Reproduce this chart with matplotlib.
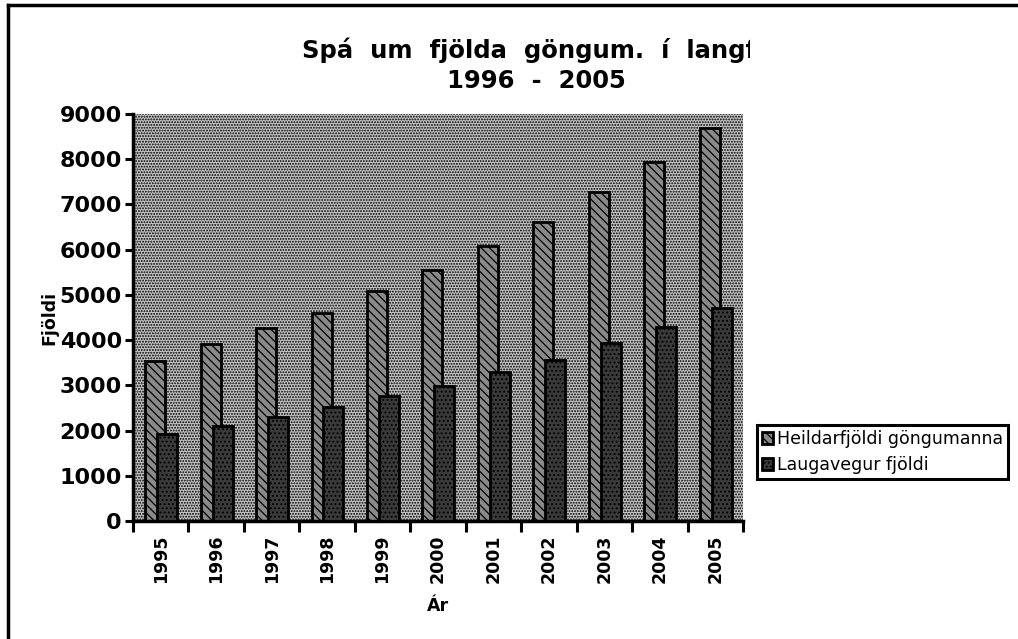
import matplotlib
matplotlib.use("Agg")
import matplotlib.pyplot as plt
import numpy as np
from matplotlib.patches import Rectangle
from matplotlib.lines import Line2D
from matplotlib.transforms import Bbox

years = ["1995", "1996", "1997", "1998", "1999", "2000", "2001", "2002", "2003", "2004", "2005"]
heildar = [3540, 3910, 4270, 4605, 5085, 5550, 6090, 6610, 7270, 7930, 8690]
laugavegur = [1930, 2100, 2290, 2515, 2760, 2990, 3290, 3570, 3940, 4295, 4716]
yticks = [0, 1000, 2000, 3000, 4000, 5000, 6000, 7000, 8000, 9000]
labels = ["Heildarfjöldi göngumanna", "Laugavegur fjöldi"]
title1 = "Spá  um  fjölda  göngum.  í  langferðum"
title2 = "1996  -  2005"

plt.rcParams['hatch.linewidth'] = 0.9
BOLD = "DejaVu Sans"

W, H = 1018, 639
fig = plt.figure(figsize=(W / 100, H / 100), dpi=100)
fig.patch.set_facecolor("white")

ax = fig.add_axes([133 / W, 1 - 521 / H, (743 - 133) / W, (521 - 114) / H])
ax.set_facecolor("white")

# dotted plot-area background
bg = Rectangle((0, 0), 1, 1, transform=ax.transAxes, facecolor="#c0c0c0",
               edgecolor="black", linewidth=0, hatch="......", zorder=0)
ax.add_patch(bg)

x = np.arange(len(years))
w = 0.36
b1 = ax.bar(x - 0.10, heildar, w, facecolor="#8a8a8a", edgecolor="black",
            linewidth=2.0, hatch="\\\\\\\\", zorder=2, label=labels[0])
b2 = ax.bar(x + 0.115, laugavegur, w, facecolor="#3a3a3a", edgecolor="black",
            linewidth=2.0, hatch="....", zorder=3, label=labels[1])

ax.set_xlim(-0.5, len(years) - 0.5)
ax.set_ylim(0, 9000)

ax.set_yticks(yticks)
ax.set_yticklabels([str(v) for v in yticks], fontfamily=BOLD, fontweight="bold", fontsize=16)
ax.tick_params(axis="y", length=6, width=2.2, direction="out", pad=2)

ax.set_xticks(np.arange(len(years) + 1) - 0.5)
ax.set_xticklabels([])
ax.set_xticks(x, minor=True)
ax.set_xticklabels(years, minor=True, rotation=90, fontfamily=BOLD,
                   fontweight="bold", fontsize=12.5)
ax.tick_params(axis="x", which="major", length=8, width=2.2, direction="out")
ax.tick_params(axis="x", which="minor", length=0, pad=10)

for s in ["top", "right"]:
    ax.spines[s].set_visible(False)
ax.spines["left"].set_linewidth(2.5)
ax.spines["bottom"].set_linewidth(2.5)

ax.set_ylabel("Fjöldi", fontfamily=BOLD, fontweight="bold", fontsize=12.5, labelpad=1)
ax.set_xlabel("Ár", fontfamily=BOLD, fontweight="bold", fontsize=12.5, labelpad=10)

# title (clipped on the right like the original)
clip = Bbox([[0, 0], [750, H]])
t1 = fig.text(302 / W, 1 - 50 / H, title1, fontfamily=BOLD, fontweight="bold",
              fontsize=17.5, ha="left", va="center")
t1.set_clip_box(clip)
t1.set_clip_on(True)
fig.text(536 / W, 1 - 81 / H, title2, fontfamily=BOLD, fontweight="bold",
         fontsize=17.5, ha="center", va="center")

leg = ax.legend(handles=[b1, b2], labels=labels, loc="upper left",
                bbox_to_anchor=(757 / W, 1 - 425 / H), bbox_transform=fig.transFigure,
                frameon=True, fancybox=False, edgecolor="black", framealpha=1,
                prop={"family": "DejaVu Sans", "size": 12.5},
                handlelength=0.6, handleheight=0.7, handletextpad=0.25,
                labelspacing=0.45, borderpad=0.3, borderaxespad=0)
leg.get_frame().set_linewidth(2.2)

# outer frame (left and top edges)
fig.add_artist(Line2D([8 / W, 8 / W], [0, 1 - 5 / H], transform=fig.transFigure,
                      color="black", linewidth=2.5))
fig.add_artist(Line2D([8 / W, 1], [1 - 5 / H, 1 - 5 / H], transform=fig.transFigure,
                      color="black", linewidth=2.5))

fig.savefig("out.png", dpi=100)
